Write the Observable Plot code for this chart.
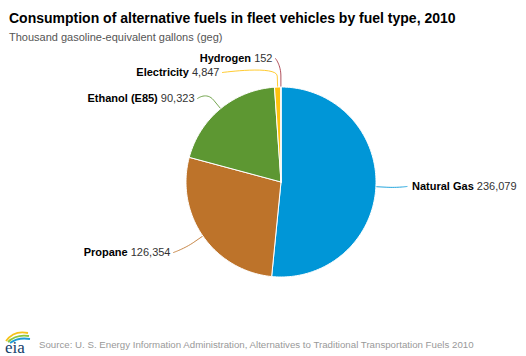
<!DOCTYPE html>
<html><head><meta charset="utf-8">
<script src="https://cdn.jsdelivr.net/npm/d3@7"></script>
<script src="https://cdn.jsdelivr.net/npm/@observablehq/plot@0.6"></script>
<style>
body{margin:0;background:#fff;font-family:"Liberation Sans",Arial,sans-serif;}
#wrap{position:relative;width:526px;height:356px;overflow:hidden;background:#fff}
#title{position:absolute;left:9px;top:10px;font-size:14px;font-weight:bold;color:#000;line-height:16px;white-space:nowrap}
#subtitle{position:absolute;left:9px;top:31px;font-size:11px;color:#555;line-height:13px;white-space:nowrap}
#chart{position:absolute;left:0;top:48px}
#logo{position:absolute;left:3px;top:326px}
#source{position:absolute;left:39px;top:339px;font-size:9.7px;line-height:12px;color:#999;white-space:nowrap}
</style></head><body>
<div id="wrap">
 <div id="title">Consumption of alternative fuels in fleet vehicles by fuel type, 2010</div>
 <div id="subtitle">Thousand gasoline-equivalent gallons (geg)</div>
 <div id="chart"></div>
 <svg id="logo" width="30" height="30" viewBox="0 0 30 30">
  <path d="M3,15 Q11,4 25,7" fill="none" stroke="#f5c21b" stroke-width="1.8"/>
  <path d="M5,16 Q13,8 26,10" fill="none" stroke="#8cc63f" stroke-width="1.8"/>
  <path d="M7,17 Q15,11 27,13" fill="none" stroke="#1e9bd7" stroke-width="1.8"/>
  <text x="2" y="27" font-family="Liberation Serif, DejaVu Serif, serif" font-size="17" fill="#123d6a">eia</text>
 </svg>
 <div id="source">Source: U. S. Energy Information Administration, Alternatives to Traditional Transportation Fuels 2010</div>
</div>
<script>
// ---- data ----
const fuels = ["Natural Gas", "Propane", "Ethanol (E85)", "Electricity", "Hydrogen"];
const consumption = [236079, 126354, 90323, 4847, 152];
const colors = ["#0096d7", "#bd732a", "#5d9732", "#ffc20e", "#a33340"];

// ---- layout (pixels) ----
const W = 526, H = 278;
const cx = 280.5, cy = 133.5, R = 95;
// label connector anchor offsets from pie centre (layout only)
const labelOffset = [[126, 4.5], [-107.5, 70.5], [-83.5, -83.5], [-58.5, -109.5], [-5.5, -123.5]];

const arcs = d3.pie().sort(null).startAngle(0).endAngle(2 * Math.PI)(consumption);
const pt = (a, r) => [cx + r * Math.sin(a), cy - r * Math.cos(a)];

// slice polygons
const slicePts = [];
arcs.forEach((a, i) => {
  const name = fuels[i];
  slicePts.push({name, x: cx, y: cy});
  const n = Math.max(2, Math.ceil((a.endAngle - a.startAngle) / (Math.PI / 180)));
  for (let k = 0; k <= n; k++) {
    const t = a.startAngle + (a.endAngle - a.startAngle) * k / n;
    const [x, y] = pt(t, R);
    slicePts.push({name, x, y});
  }
  slicePts.push({name, x: cx, y: cy});
});

// connectors
const connPts = [];
const labels = [];
arcs.forEach((a, i) => {
  const name = fuels[i];
  const mid = (a.startAngle + a.endAngle) / 2;
  const L = [cx + labelOffset[i][0], cy + labelOffset[i][1]];
  const B = pt(mid, R + 11);
  const E = pt(mid, R);
  const P2 = [2 * B[0] - E[0], 2 * B[1] - E[1]];
  for (let k = 0; k <= 16; k++) {
    const t = k / 16, u = 1 - t;
    const x = u*u*u*L[0] + 3*u*u*t*L[0] + 3*u*t*t*P2[0] + t*t*t*B[0];
    const y = u*u*u*L[1] + 3*u*u*t*L[1] + 3*u*t*t*P2[1] + t*t*t*B[1];
    connPts.push({name, x, y});
  }
  connPts.push({name, x: E[0], y: E[1]});
  const right = Math.sin(mid) > 0;
  labels.push({name, value: consumption[i], right, x: right ? L[0] + 5 : L[0] - 3, y: L[1]});
});

const fmt = d3.format(",");
const rightLabels = labels.filter(d => d.right);
const leftLabels = labels.filter(d => !d.right);
const chart = Plot.plot({
  width: W, height: H,
  margin: 0,
  x: {type: "linear", domain: [0, W], range: [0, W], axis: null},
  y: {type: "linear", domain: [0, H], range: [0, H], axis: null},
  color: {domain: fuels, range: colors},
  style: {fontFamily: "Liberation Sans, Arial, sans-serif", background: "white"},
  marks: [
    Plot.line(connPts, {x: "x", y: "y", z: "name", stroke: "name", strokeWidth: 1, strokeOpacity: 0.85}),
    Plot.line(slicePts, {x: "x", y: "y", z: "name", fill: "name", stroke: "white", strokeWidth: 1, strokeLinejoin: "round"}),
    Plot.text(rightLabels, {x: "x", y: "y", text: "name", textAnchor: "start", fontSize: 11, fill: "#000"}),
    Plot.text(leftLabels, {x: "x", y: "y", text: "name", textAnchor: "end", fontSize: 11, fill: "#000"})
  ]
});
document.getElementById("chart").appendChild(chart);

// name bold + value regular
const textGroups = d3.select(chart).selectAll('g[aria-label="text"]').nodes();
[rightLabels, leftLabels].forEach((data, gi) => {
  d3.select(textGroups[gi]).selectAll("text").each(function(_, j) {
    const d = data[j];
    const t = d3.select(this);
    t.text(null);
    t.append("tspan").attr("font-weight", "bold").text(d.name);
    t.append("tspan").attr("fill", "#333").text(" " + fmt(d.value));
  });
});
</script>
</body></html>
